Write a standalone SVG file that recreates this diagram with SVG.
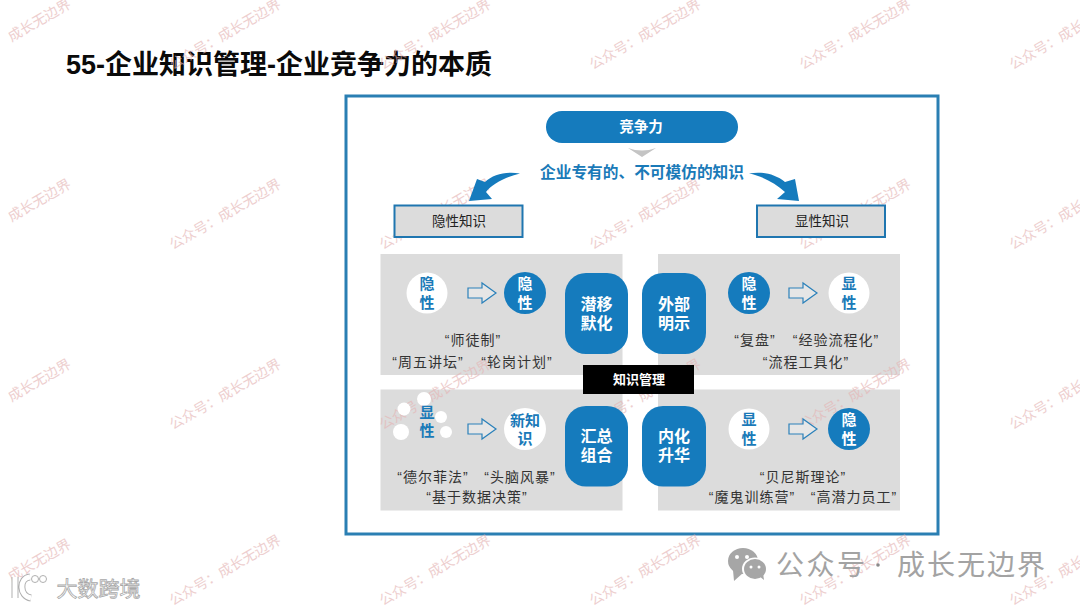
<svg xmlns="http://www.w3.org/2000/svg" width="1080" height="608" viewBox="0 0 1080 608">
<style>
text{font-family:"Liberation Sans","Noto Sans CJK SC",sans-serif;text-anchor:middle}
.wm{font-size:14px;fill:#e5b5b5;opacity:.65;text-anchor:start}
.panel{fill:#dcdcdc}
.tag{fill:#dcdcdc;stroke:#1f76b0;stroke-width:2}
.tagt{font-size:13.5px;fill:#222}
.blue{fill:#157bbd}
.white{fill:#fff}
.ct{font-size:15px;font-weight:700}
.b{fill:#1a7ab8}
.w{fill:#fff}
.big{font-size:16px;font-weight:700;fill:#fff}
.lab{font-size:14px;fill:#333;letter-spacing:1px}
.hollow{fill:#e6e6e6;stroke:#2a80ba;stroke-width:1.2}
.wx{fill:#a6a6a6}
.wt{font-size:28px;fill:#a3a3a3;letter-spacing:2.500px;text-anchor:start}
</style>
<rect width="1080" height="608" fill="#fff"/>
<text x="279" y="74" font-size="27" font-weight="700" fill="#0a0a0a">55-企业知识管理-企业竞争力的本质</text>
<rect x="346" y="96" width="592" height="438" fill="#fff" stroke="#2a7fb3" stroke-width="3"/>
<g id="panels">
<rect class="panel" x="380.500" y="254" width="242" height="121"/>
<rect class="panel" x="658" y="254" width="242" height="121"/>
<rect class="panel" x="380.500" y="389.500" width="242" height="121"/>
<rect class="panel" x="658" y="389.500" width="242" height="121"/>
</g>
<g id="watermarks">
<text class="wm" x="11.500" y="42" transform="rotate(-30 11.500 42)">成长无边界</text>
<text class="wm" x="173" y="70" transform="rotate(-30 173 70)">公众号：成长无边界</text>
<text class="wm" x="383" y="70" transform="rotate(-30 383 70)">公众号：成长无边界</text>
<text class="wm" x="593" y="70" transform="rotate(-30 593 70)">公众号：成长无边界</text>
<text class="wm" x="803" y="70" transform="rotate(-30 803 70)">公众号：成长无边界</text>
<text class="wm" x="1013" y="70" transform="rotate(-30 1013 70)">公众号：成长</text>
<text class="wm" x="11.500" y="222" transform="rotate(-30 11.500 222)">成长无边界</text>
<text class="wm" x="173" y="250" transform="rotate(-30 173 250)">公众号：成长无边界</text>
<text class="wm" x="383" y="250" transform="rotate(-30 383 250)">公众号：成长无边界</text>
<text class="wm" x="593" y="250" transform="rotate(-30 593 250)">公众号：成长无边界</text>
<text class="wm" x="803" y="250" transform="rotate(-30 803 250)">公众号：成长无边界</text>
<text class="wm" x="1013" y="250" transform="rotate(-30 1013 250)">公众号：成长</text>
<text class="wm" x="11.500" y="402" transform="rotate(-30 11.500 402)">成长无边界</text>
<text class="wm" x="173" y="430" transform="rotate(-30 173 430)">公众号：成长无边界</text>
<text class="wm" x="383" y="430" transform="rotate(-30 383 430)">公众号：成长无边界</text>
<text class="wm" x="593" y="430" transform="rotate(-30 593 430)">公众号：成长无边界</text>
<text class="wm" x="803" y="430" transform="rotate(-30 803 430)">公众号：成长无边界</text>
<text class="wm" x="1013" y="430" transform="rotate(-30 1013 430)">公众号：成长</text>
<text class="wm" x="11.500" y="582" transform="rotate(-30 11.500 582)">成长无边界</text>
<text class="wm" x="173" y="606" transform="rotate(-30 173 606)">公众号：成长无边界</text>
<text class="wm" x="383" y="606" transform="rotate(-30 383 606)">公众号：成长无边界</text>
<text class="wm" x="593" y="606" transform="rotate(-30 593 606)">公众号：成长无边界</text>
<text class="wm" x="803" y="606" transform="rotate(-30 803 606)">公众号：成长无边界</text>
<text class="wm" x="1013" y="606" transform="rotate(-30 1013 606)">公众号：成长</text>
</g>
<g id="connectors">
<path class="blue" d="M520 173.500C507 171 493 174 485 182L477 179L469 201L492 199L486 192C492 184 505 177 520 173.500Z"/>
<path class="blue" d="M749 173.500C762 171 775 174 785 182L795 179L799 201L777 199L785 192C775 183 762 176 749 173.500Z"/>
<path class="hollow" d="M468 288H482V283L496 293L482 303V298H468Z"/>
<path class="hollow" d="M789 288H803V283L817 293L803 303V298H789Z"/>
<path class="hollow" d="M468 424H482V419L496 429L482 439V434H468Z"/>
<path class="hollow" d="M789 424H803V419L817 429L803 439V434H789Z"/>
</g>
<g id="top">
<rect class="blue" x="546" y="111" width="192" height="32" rx="16"/>
<text x="641" y="132" font-size="14.500" font-weight="700" fill="#fff">竞争力</text>
<path d="M628 148Q642 153 656 148L642 157Z" fill="#c4c4c4"/>
<text class="b" x="642" y="177.500" font-size="15.700" font-weight="700">企业专有的、不可模仿的知识</text>
</g>
<g id="tag-tacit">
<rect class="tag" x="394.500" y="205.500" width="128" height="31.500"/>
<text class="tagt" x="459" y="226">隐性知识</text>
</g>
<g id="tag-explicit">
<rect class="tag" x="757" y="205.500" width="128" height="31.500"/>
<text class="tagt" x="822" y="226">显性知识</text>
</g>
<g id="quad-tl">
<circle class="white" cx="427" cy="293" r="20.500"/>
<text class="ct b" x="427" y="289">隐</text><text class="ct b" x="427" y="307.500">性</text>
<circle class="blue" cx="525" cy="293" r="21"/>
<text class="ct w" x="525" y="289">隐</text><text class="ct w" x="525" y="307.500">性</text>
<rect class="blue" x="565" y="273" width="63" height="81" rx="21"/>
<text class="big" x="596.500" y="310">潜移</text><text class="big" x="596.500" y="329">默化</text>
<text class="lab" x="473" y="345">“师徒制”</text>
<text class="lab" x="428" y="367">“周五讲坛”</text>
<text class="lab" x="517" y="367">“轮岗计划”</text>
</g>
<g id="quad-tr">
<circle class="blue" cx="749" cy="293" r="21"/>
<text class="ct w" x="749" y="289">隐</text><text class="ct w" x="749" y="307.500">性</text>
<circle class="white" cx="849" cy="293" r="20.500"/>
<text class="ct b" x="849" y="289">显</text><text class="ct b" x="849" y="307.500">性</text>
<rect class="blue" x="642" y="273" width="64" height="81" rx="21"/>
<text class="big" x="674" y="310">外部</text><text class="big" x="674" y="329">明示</text>
<text class="lab" x="755" y="345">“复盘”</text>
<text class="lab" x="836" y="345">“经验流程化”</text>
<text class="lab" x="806" y="367">“流程工具化”</text>
</g>
<g id="quad-bl">
<circle class="white" cx="401" cy="432" r="8"/>
<circle class="white" cx="404" cy="409" r="6.500"/>
<circle class="white" cx="424" cy="399" r="7"/>
<circle class="white" cx="441" cy="417" r="6"/>
<circle class="white" cx="446" cy="432" r="6"/>
<text class="ct b" x="427" y="418">显</text><text class="ct b" x="427" y="436">性</text>
<circle class="white" cx="525" cy="429" r="21"/>
<text class="ct b" x="525" y="426">新知</text><text class="ct b" x="525" y="443.500">识</text>
<rect class="blue" x="565" y="406" width="63" height="80.500" rx="21"/>
<text class="big" x="596.500" y="442">汇总</text><text class="big" x="596.500" y="461">组合</text>
<text class="lab" x="433" y="482">“德尔菲法”</text>
<text class="lab" x="520" y="482">“头脑风暴”</text>
<text class="lab" x="477" y="502">“基于数据决策”</text>
</g>
<g id="quad-br">
<circle class="white" cx="749" cy="429" r="20.500"/>
<text class="ct b" x="749" y="425">显</text><text class="ct b" x="749" y="443.500">性</text>
<circle class="blue" cx="849" cy="429" r="21"/>
<text class="ct w" x="849" y="425">隐</text><text class="ct w" x="849" y="443.500">性</text>
<rect class="blue" x="642" y="406" width="64" height="80.500" rx="21"/>
<text class="big" x="674" y="442">内化</text><text class="big" x="674" y="461">升华</text>
<text class="lab" x="803" y="482">“贝尼斯理论”</text>
<text class="lab" x="752" y="502">“魔鬼训练营”</text>
<text class="lab" x="854" y="502">“高潜力员工”</text>
</g>
<g id="center">
<rect x="583" y="365" width="111" height="29" fill="#000"/>
<text x="639" y="384" font-size="13" font-weight="700" fill="#fff">知识管理</text>
</g>
<g id="footer-right">
<ellipse class="wx" cx="743" cy="561" rx="15" ry="13"/>
<path class="wx" d="M733 570L734 581L743 573Z"/>
<ellipse cx="755" cy="569" rx="13" ry="11.500" fill="#fff"/>
<ellipse class="wx" cx="755" cy="569" rx="11" ry="10"/>
<path class="wx" d="M759 576L764 580L763 573Z"/>
<circle cx="737" cy="557" r="2" fill="#fff"/><circle cx="747" cy="557" r="2" fill="#fff"/>
<circle cx="751" cy="567" r="1.500" fill="#fff"/><circle cx="759" cy="567" r="1.500" fill="#fff"/>
<text class="wt" x="776" y="575">公众号</text>
<circle cx="878" cy="565" r="1.800" fill="#8a8a8a"/>
<text class="wt" x="897" y="575" style="letter-spacing:2px">成长无边界</text>
</g>
<g id="footer-left">
<path d="M15 577V598M30 577C19 578 19 596 31 598" fill="none" stroke="#b0b0b0" stroke-width="7"/>
<path d="M15 577V598M30 577C19 578 19 596 31 598" fill="none" stroke="#fff" stroke-width="5"/>
<circle cx="35" cy="579" r="3.500" fill="#fff" stroke="#b0b0b0"/>
<circle cx="43" cy="579" r="3.500" fill="#fff" stroke="#b0b0b0"/>
<text x="98.500" y="596" font-size="21" fill="#fff" stroke="#a8a8a8" stroke-width=".8">大数跨境</text>
</g>
</svg>
